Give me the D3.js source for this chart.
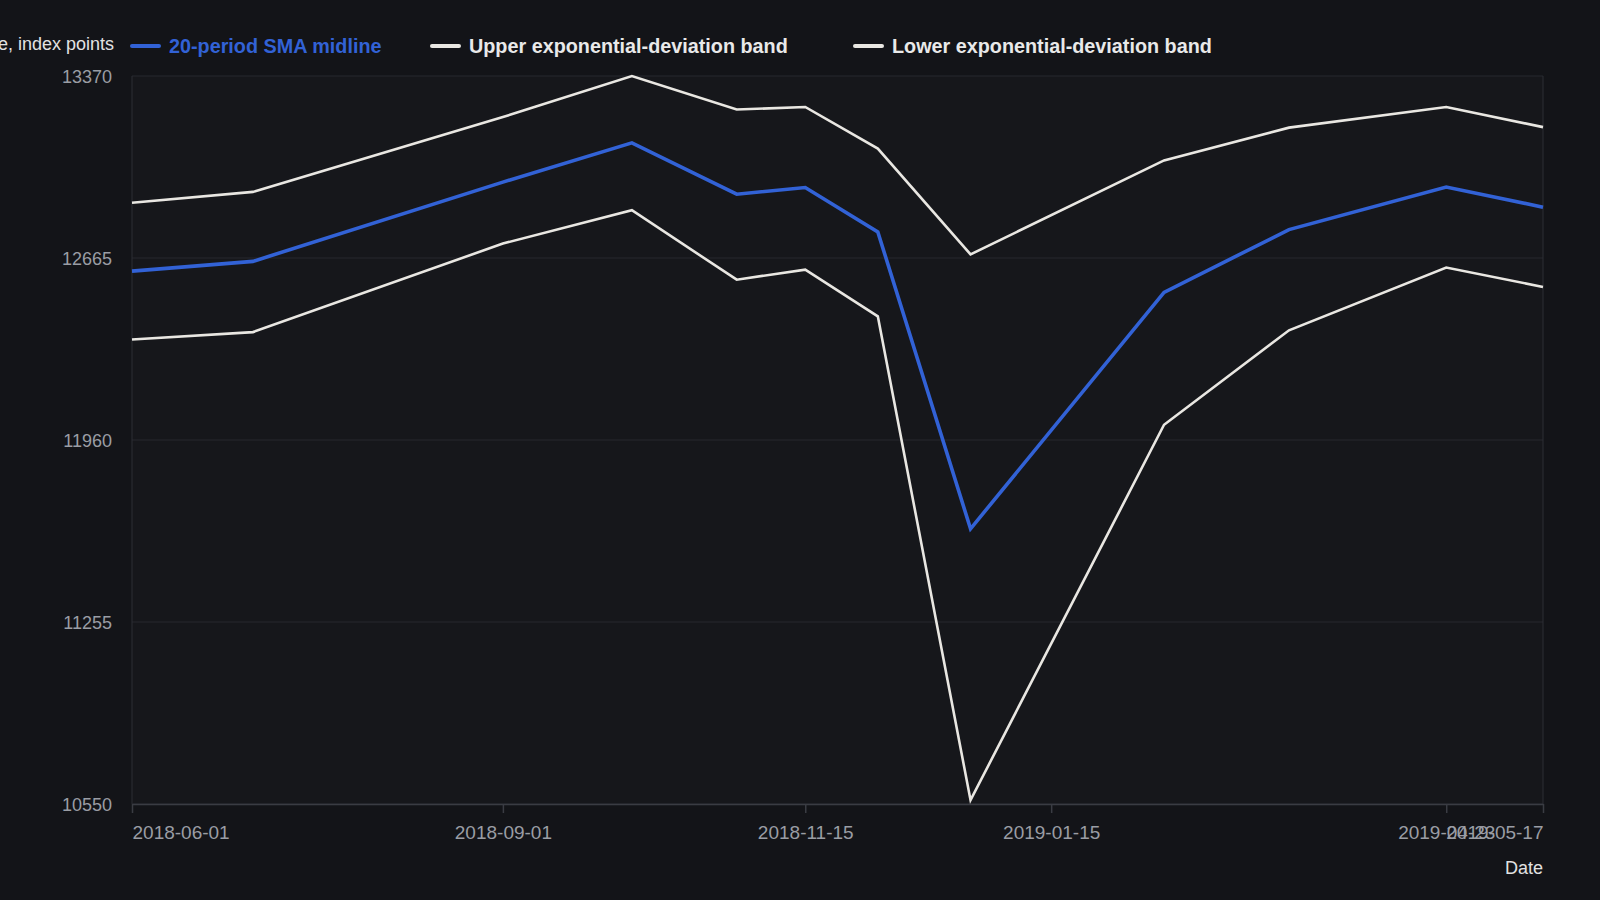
<!DOCTYPE html>
<html>
<head>
<meta charset="utf-8">
<script src="https://cdn.jsdelivr.net/npm/d3@7"></script>
<style>
  html, body { margin: 0; padding: 0; background: #131418; }
  svg { display: block; font-family: "Liberation Sans", Arial, sans-serif; }
</style>
</head>
<body>
<div id="chart"></div>
<script>
// Dates of each observation
const dates = ["2018-06-01", "2018-07-01", "2018-09-01", "2018-10-03", "2018-10-29",
               "2018-11-15", "2018-12-03", "2018-12-26", "2019-02-12", "2019-03-15",
               "2019-04-23", "2019-05-17"];

// Series values (index points)
const midline = [12614, 12652, 12959, 13111, 12912, 12938, 12766, 11616, 12532, 12775, 12940, 12862];
const upperBand = [12879, 12921, 13211, 13370, 13240, 13250, 13089, 12679, 13043, 13170, 13250, 13172];
const lowerBand = [12349, 12378, 12721, 12850, 12581, 12620, 12439, 10565, 12019, 12385, 12628, 12553];

// Axis ticks
const xTickLabels = ["2018-06-01", "2018-09-01", "2018-11-15", "2019-01-15", "2019-04-23", "2019-05-17"];
const yTickValues = [10550, 11255, 11960, 12665, 13370];

const seriesNames = ["20-period SMA midline", "Upper exponential-deviation band", "Lower exponential-deviation band"];
const seriesColors = ["#3262d6", "#e9e7e2", "#e9e7e2"];

const width = 1600, height = 900;
const margin = {top: 76, right: 57, bottom: 96, left: 132};
const plotW = width - margin.left - margin.right;
const plotH = height - margin.top - margin.bottom;

const parse = d3.utcParse("%Y-%m-%d");

const svg = d3.select("#chart").append("svg")
    .attr("width", width)
    .attr("height", height);

svg.append("rect").attr("width", width).attr("height", height).attr("fill", "#131418");

const g = svg.append("g").attr("transform", `translate(${margin.left}, ${margin.top})`);

g.append("rect")
    .attr("width", plotW).attr("height", plotH)
    .attr("fill", "#16171b");

const x = d3.scaleUtc()
    .domain([parse(dates[0]), parse(dates[dates.length - 1])])
    .range([0, plotW]);

const y = d3.scaleLinear()
    .domain([10550, 13370])
    .range([plotH, 0]);

// horizontal grid
g.append("g")
    .selectAll("line")
    .data(yTickValues)
    .enter().append("line")
        .attr("x1", 0).attr("x2", plotW)
        .attr("y1", d => y(d)).attr("y2", d => y(d))
        .attr("stroke", "#26282e")
        .attr("stroke-width", 1);

// plot border sides
g.append("line").attr("x1", 0).attr("x2", 0).attr("y1", 0).attr("y2", plotH)
    .attr("stroke", "#2c2e34");
g.append("line").attr("x1", plotW).attr("x2", plotW).attr("y1", 0).attr("y2", plotH)
    .attr("stroke", "#2c2e34");

// y axis labels
const yAxis = g.append("g")
    .call(d3.axisLeft(y).tickValues(yTickValues).tickSize(0).tickPadding(20).tickFormat(d3.format("d")));
yAxis.select(".domain").remove();
yAxis.selectAll("text")
    .attr("fill", "#9a9da4")
    .attr("font-size", 18)
    .attr("dy", "0.38em")
    .attr("font-family", "Liberation Sans, Arial, sans-serif");

// x axis
const xTicks = xTickLabels.map(parse);
const xAxis = g.append("g")
    .attr("transform", `translate(0, ${plotH})`)
    .call(d3.axisBottom(x).tickValues(xTicks).tickSize(9).tickSizeOuter(0).tickPadding(13)
        .tickFormat(d3.utcFormat("%Y-%m-%d")));
xAxis.select(".domain").attr("stroke", "#3a3c43").attr("stroke-width", 1.5);
xAxis.selectAll(".tick line").attr("stroke", "#3a3c43").attr("stroke-width", 1.5);
xAxis.selectAll("text")
    .attr("fill", "#9a9da4")
    .attr("font-size", 19)
    .attr("font-family", "Liberation Sans, Arial, sans-serif")
    .attr("text-anchor", (d, i) => i === 0 ? "start" : (i === xTicks.length - 1 ? "end" : "middle"));

// axis titles
g.append("text")
    .attr("x", plotW).attr("y", plotH + 70)
    .attr("text-anchor", "end")
    .attr("fill", "#e2e2e2")
    .attr("font-size", 18)
    .text("Date");

svg.append("text")
    .attr("x", 114).attr("y", 50)
    .attr("text-anchor", "end")
    .attr("fill", "#e2e2e2")
    .attr("font-size", 18)
    .text("Close price, index points");

// lines
const allSeries = [midline, upperBand, lowerBand];
const line = d3.line()
    .x((d, i) => x(parse(dates[i])))
    .y(d => y(d));

// draw bands first, midline on top
[2, 1, 0].forEach(k => {
    g.append("path")
        .datum(allSeries[k])
        .attr("fill", "none")
        .attr("stroke", seriesColors[k])
        .attr("stroke-width", k === 0 ? 3.6 : 2.6)
        .attr("stroke-linejoin", "miter")
        .attr("d", line);
});

// legend
const legendX = [132, 432, 855];
const legend = svg.append("g");
seriesNames.forEach((name, i) => {
    const lg = legend.append("g").attr("transform", `translate(${legendX[i]}, 46)`);
    lg.append("line")
        .attr("x1", 0).attr("x2", 27).attr("y1", 0).attr("y2", 0)
        .attr("stroke", seriesColors[i])
        .attr("stroke-width", 4)
        .attr("stroke-linecap", "round");
    lg.append("text")
        .attr("x", 37).attr("y", 7)
        .attr("fill", i === 0 ? "#3262d6" : "#e9e9e9")
        .attr("font-size", 19.8)
        .attr("font-weight", "bold")
        .text(name);
});
</script>
</body>
</html>
